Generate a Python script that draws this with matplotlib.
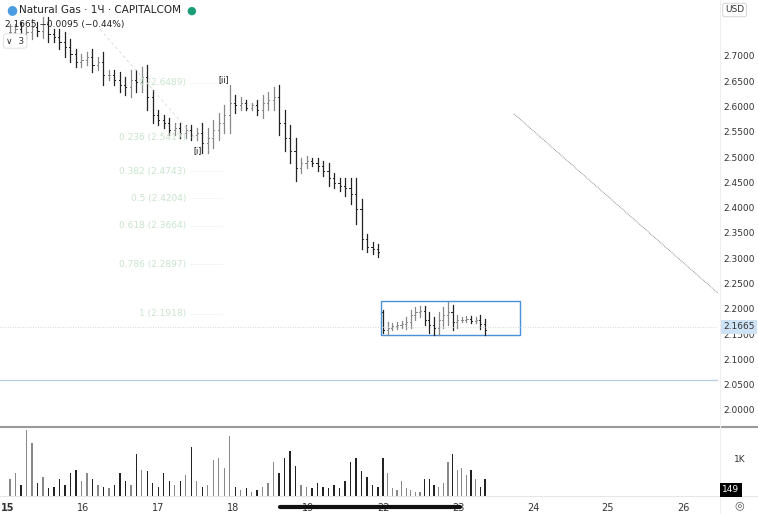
import numpy as np
import matplotlib
matplotlib.use("Agg")
import matplotlib.pyplot as plt

# day ticks (weekend collapsed, one unit per session)
day_labels = ["15", "16", "17", "18", "19", "22", "23", "24", "25", "26"]
day_pos = [0, 1, 2, 3, 4, 5, 6, 7, 8, 9]

# hourly closes, week 1 (15th..19th)
closes_a = [2.750, 2.755, 2.745, 2.750, 2.760, 2.752, 2.765, 2.745, 2.740, 2.730,
            2.720, 2.705, 2.690, 2.695, 2.700, 2.685, 2.690, 2.665, 2.665, 2.655,
            2.645, 2.640, 2.655, 2.650, 2.660, 2.620, 2.585, 2.575, 2.570, 2.555,
            2.560, 2.550, 2.555, 2.545, 2.550, 2.530, 2.540, 2.555, 2.570, 2.585,
            2.610, 2.605, 2.610, 2.600, 2.605, 2.595, 2.610, 2.615, 2.620, 2.570,
            2.540, 2.515, 2.480, 2.490, 2.495, 2.490, 2.485, 2.475, 2.460, 2.450,
            2.445, 2.440, 2.430, 2.400, 2.340, 2.325, 2.320, 2.315]
ranges_a = [0.03, 0.02, 0.03, 0.02, 0.03, 0.02, 0.03, 0.03, 0.02, 0.03,
            0.04, 0.03, 0.02, 0.02, 0.02, 0.03, 0.02, 0.04, 0.02, 0.02,
            0.03, 0.03, 0.04, 0.04, 0.04, 0.05, 0.03, 0.02, 0.02, 0.02,
            0.02, 0.02, 0.02, 0.02, 0.02, 0.04, 0.04, 0.04, 0.04, 0.04,
            0.07, 0.03, 0.02, 0.01, 0.01, 0.02, 0.03, 0.03, 0.04, 0.05,
            0.05, 0.05, 0.05, 0.02, 0.02, 0.01, 0.02, 0.02, 0.03, 0.02,
            0.02, 0.03, 0.04, 0.06, 0.04, 0.02, 0.02, 0.02]
# week 2 (22nd..23rd)
open_b = 2.195
closes_b = [2.160, 2.165, 2.168, 2.170, 2.172, 2.175, 2.190, 2.195, 2.198, 2.180,
            2.170, 2.165, 2.180, 2.190, 2.195, 2.175, 2.180, 2.180, 2.182, 2.178,
            2.180, 2.172, 2.160]
ranges_b = [0.01, 0.02, 0.01, 0.01, 0.01, 0.02, 0.02, 0.02, 0.02, 0.02,
            0.03, 0.03, 0.03, 0.03, 0.04, 0.03, 0.02, 0.01, 0.01, 0.01,
            0.01, 0.02, 0.02]
volumes = [450, 600, 300, 1750, 1400, 350, 500, 200, 250, 450,
           300, 600, 700, 400, 600, 450, 300, 250, 200, 300,
           600, 400, 300, 1100, 700, 650, 350, 250, 600, 400,
           300, 400, 550, 1300, 400, 250, 300, 950, 1000, 750,
           1600, 250, 150, 200, 100, 150, 250, 350, 900, 600,
           1000, 1200, 800, 300, 250, 200, 350, 250, 200, 300,
           200, 400, 900, 1000, 650, 500, 300, 250,
           1000, 600, 200, 150, 400, 200, 150, 100, 100, 450, 450,
           300, 250, 350, 900, 1100, 700, 750, 550, 700, 450, 250, 450]

fib_levels = [0, 0.236, 0.382, 0.5, 0.618, 0.786, 1]
fib_prices = [2.6489, 2.5417, 2.4743, 2.4204, 2.3664, 2.2897, 2.1918]

last_price = 2.1665
last_volume = 149


def px2u(px):
    return (px - 8) / 75.0


xa = np.linspace(px2u(10), px2u(378), len(closes_a))
xb = np.linspace(px2u(383), px2u(485), len(closes_b))
xs = np.concatenate([xa, xb])
closes = closes_a + closes_b
ranges = ranges_a + ranges_b
opens = [closes_a[0]] + closes_a[:-1] + [open_b] + closes_b[:-1]

fig = plt.figure(figsize=(7.58, 5.14), dpi=100)
W, H = 758, 514
ax = fig.add_axes([0, (H - 426) / H, 718 / W, 426 / H])
vax = fig.add_axes([0, (H - 496) / H, 718 / W, 68 / H])
xlim = (px2u(0), px2u(718))

# price bars
tick = 0.015
for x, o, c, r in zip(xs, opens, closes, ranges):
    hi = max(o, c) + r / 2
    lo = min(o, c) - r / 2
    col = "#222222" if c < o else "#888888"
    ax.plot([x, x], [lo, hi], color=col, lw=0.9)
    ax.plot([x - tick, x], [o, o], color=col, lw=0.7)
    ax.plot([x, x + tick], [c, c], color=col, lw=0.7)

# fib retracement labels
for lv, p in zip(fib_levels, fib_prices):
    ax.text(px2u(186), p, f"{lv:g} ({p:.4f})", color="#c9e4cc", fontsize=6.5,
            ha="right", va="center")
    ax.plot([px2u(190), px2u(222)], [p, p], color="#d6ead8", lw=0.6, ls=(0, (1, 1.5)))

ax.plot([px2u(100), px2u(195)], [2.755, 2.54], color="#dddddd", lw=0.7, ls=(0, (3, 3)))
ax.plot([px2u(514), px2u(720)], [2.5875, 2.2295], color="#777777", lw=0.6, ls=(0, (1, 1)))
ax.text(px2u(197), 2.515, "[i]", fontsize=5.5, ha="center", va="center")
ax.text(px2u(224), 2.655, "[ii]", fontsize=5.5, ha="center", va="center")

ax.axhline(2.0605, color="#b7cfe6", lw=0.9)
ax.axhline(last_price, color="#cccccc", lw=0.6, ls=(0, (1, 2)))
ax.add_patch(plt.Rectangle((px2u(381), 2.150), px2u(520) - px2u(381), 0.0675,
                           fill=False, ec="#4a90d9", lw=1.0))

ax.set_xlim(*xlim)
ax.set_ylim(1.9703, 2.8127)
ax.set_xticks([])
ax.set_yticks([])
for s in ax.spines.values():
    s.set_visible(False)

# volume
vcols = ["#222222" if c < o else "#888888" for o, c in zip(opens, closes)]
vax.bar(xs, volumes, width=0.018, color=vcols)
vax.set_xlim(*xlim)
vax.set_ylim(0, 1800)
vax.set_yticks([])
vax.set_xticks(day_pos)
vax.set_xticklabels(day_labels, fontsize=7, color="#333333")
vax.tick_params(axis="x", length=0, pad=5)
for s in vax.spines.values():
    s.set_visible(False)
vax.get_xticklabels()[0].set_fontweight("bold")

# separators / right axis
fig.add_artist(plt.Line2D([0, 1], [(H - 427) / H] * 2, color="#999999", lw=1.5))
fig.add_artist(plt.Line2D([0, 1], [(H - 496) / H] * 2, color="#e6e6e6", lw=0.8))
fig.add_artist(plt.Line2D([720 / W] * 2, [0, 1], color="#eeeeee", lw=0.8))
fig.add_artist(plt.Line2D([280 / W, 460 / W], [(H - 507) / H] * 2, color="#111111", lw=3,
                          solid_capstyle="round"))

for p in [2.0, 2.05, 2.10, 2.15, 2.20, 2.25, 2.30, 2.35, 2.40, 2.45, 2.50, 2.55,
          2.60, 2.65, 2.70]:
    y = (p - 1.9703) / (2.8127 - 1.9703) * 426 / H + (H - 426) / H
    fig.text(739 / W, y, f"{p:.4f}", fontsize=6.5, ha="center", va="center", color="#333333")
yl = (last_price - 1.9703) / (2.8127 - 1.9703) * 426 / H + (H - 426) / H
fig.text(739 / W, yl, f"{last_price:.4f}", fontsize=6.5, ha="center", va="center",
         color="#333333", bbox=dict(boxstyle="square,pad=0.25", fc="#cfe3f7", ec="none"))
fig.text(740 / W, (H - 460) / H, "1K", fontsize=6.5, ha="center", va="center", color="#333333")
fig.text(731 / W, (H - 490) / H, str(last_volume), fontsize=6.5, ha="center", va="center",
         color="white", bbox=dict(boxstyle="square,pad=0.25", fc="black", ec="none"))
fig.text(725 / W, (H - 10) / H, "USD", fontsize=6.5, ha="left", va="center", color="#333333",
         bbox=dict(boxstyle="round,pad=0.25", fc="white", ec="#cccccc", lw=0.6))
fig.text(739 / W, (H - 505) / H, "\u25ce", fontsize=8, ha="center", va="center", color="#555555")

# legend header
fig.text(6 / W, (H - 10) / H, "\u25cf", fontsize=9, color="#4a9be0", va="center")
fig.text(19 / W, (H - 10) / H, "Natural Gas \u00b7 1\u0427 \u00b7 CAPITALCOM", fontsize=7.5,
         va="center", color="#222222")
fig.text(186 / W, (H - 11) / H, "\u25cf", fontsize=8, color="#1a9e7a", va="center")
fig.text(5 / W, (H - 25) / H, "2.1665 \u22120.0095 (\u22120.44%)", fontsize=6.5,
         va="center", color="#222222")
fig.text(6 / W, (H - 41) / H, "\u2228  3", fontsize=6.5, va="center", color="#333333",
         bbox=dict(boxstyle="round,pad=0.3", fc="white", ec="#dddddd", lw=0.6))

fig.savefig("out.png", dpi=100)
